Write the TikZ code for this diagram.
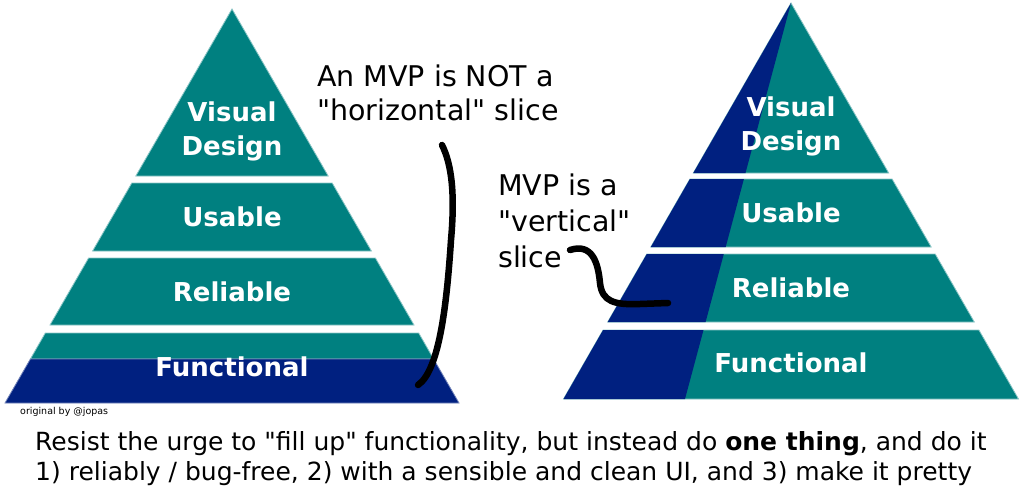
\documentclass[tikz,border=0pt]{standalone}
\usepackage{fontspec}
\setmainfont{DejaVu Sans}[Ligatures=TeXOff]
\definecolor{pyrteal}{RGB}{0,128,128}
\definecolor{pyrblue}{RGB}{0,32,128}
\tikzset{
  layer/.style={fill=pyrteal,draw=pyrteal!45!white,line width=0.8pt},
  slice/.style={fill=pyrblue,draw=pyrblue!55!white,line width=0.8pt},
  layerlbl/.style={text=white,font=\bfseries\fontsize{26}{34}\selectfont,align=center,inner sep=0pt},
  note/.style={font=\fontsize{28.5}{34}\selectfont,align=left,inner sep=0pt,anchor=base west},
  squiggle/.style={black,line width=6.5pt,line cap=round}
}
\begin{document}
\begin{tikzpicture}[x=1pt,y=-1pt]
            \useasboundingbox (0,0) rectangle (1024,487);
            \filldraw[layer] (232,9) -- (328.2,176) -- (135.8,176) -- cycle;
            \filldraw[layer] (131.8,183) -- (332.2,183) -- (371.4,251) -- (92.6,251) -- cycle;
            \filldraw[layer] (88.6,258) -- (375.4,258) -- (414,325) -- (50,325) -- cycle;
            \filldraw[layer] (45.3,333) -- (418.7,333) -- (433.6,359) -- (30.4,359) -- cycle;
            \filldraw[slice] (30.4,359) -- (433.6,359) -- (459,403) -- (5,403) -- cycle;
            \node[layerlbl] (lvis) at (232,131) {Visual\\Design};
            \node[layerlbl] (luse) at (232,217) {Usable};
            \node[layerlbl] (lrel) at (232,292) {Reliable};
            \node[layerlbl] (lfun) at (232,367) {Functional};
            \filldraw[layer] (791,3) -- (888.7,173) -- (693.3,173) -- cycle;
            \fill[pyrblue] (791,3) -- (745.5,173) -- (693.3,173) -- cycle;
            \filldraw[layer] (689.9,179) -- (892.1,179) -- (931.2,247) -- (650.8,247) -- cycle;
            \fill[pyrblue] (689.9,179) -- (743.9,179) -- (725.7,247) -- (650.8,247) -- cycle;
            \filldraw[layer] (646.8,254) -- (935.2,254) -- (974.3,322) -- (607.7,322) -- cycle;
            \fill[pyrblue] (646.8,254) -- (723.8,254) -- (705.6,322) -- (607.7,322) -- cycle;
            \filldraw[layer] (603.1,330) -- (978.9,330) -- (1018.5,399) -- (563.5,399) -- cycle;
            \fill[pyrblue] (603.1,330) -- (703.5,330) -- (685,399) -- (563.5,399) -- cycle;
            \node[layerlbl] (rvis) at (791,126) {Visual\\Design};
            \node[layerlbl] (ruse) at (791,213) {Usable};
            \node[layerlbl] (rrel) at (791,288) {Reliable};
            \node[layerlbl] (rfun) at (791,363) {Functional};
            \node[note] (horiz) at (317,120) {An MVP is NOT a\\"horizontal" slice};
            \node[note,font=\fontsize{28.5}{36}\selectfont] (vert) at (498,267) {MVP is a\\"vertical"\\slice};
            \coordinate (hz-a) at (442,145);
            \coordinate (hz-b) at (418,385);
            \draw[squiggle] (hz-a) .. controls (452,165) and (455,195) .. (451,240) .. controls (447,300) and (440,370) .. (hz-b);
            \coordinate (vt-a) at (570,250);
            \coordinate (vt-b) at (668,303);
            \draw[squiggle] (vt-a) .. controls (592,243) and (598,262) .. (600,283) .. controls (602,302) and (615,305) .. (640,304) -- (vt-b);
            \node[anchor=base west,inner sep=0pt,font=\fontsize{9.5}{11}\selectfont] (credit) at (20,414) {original by @jopas};
            \node[anchor=base west,align=left,inner sep=0pt,font=\fontsize{25}{30}\selectfont] (summary) at (35,480) {Resist the urge to "fill up" functionality, but instead do \textbf{one thing}, and do it\\1) reliably / bug-free, 2) with a sensible and clean UI, and 3) make it pretty};
        \end{tikzpicture}
\end{document}
